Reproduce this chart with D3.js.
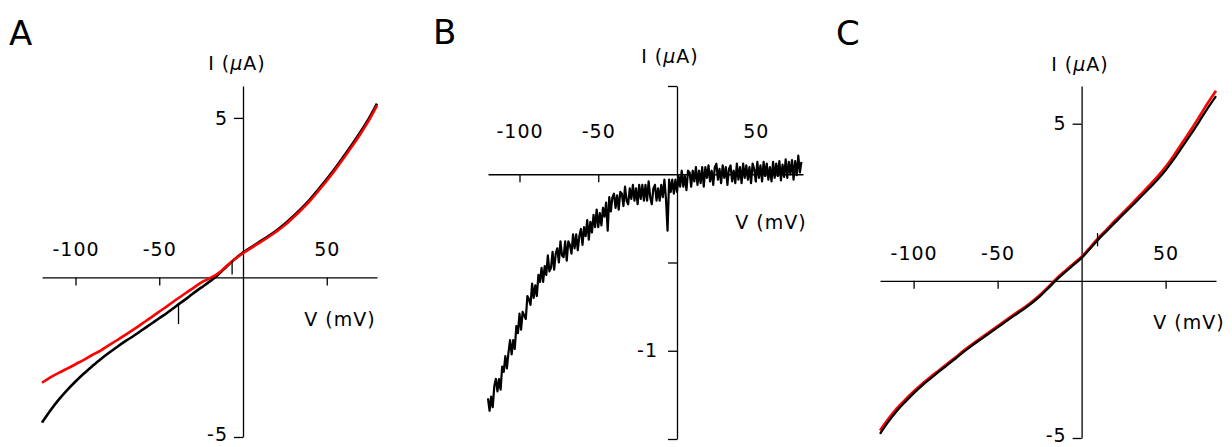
<!DOCTYPE html>
<html>
<head>
<meta charset="utf-8">
<script src="https://cdn.jsdelivr.net/npm/d3@7"></script>
<style>
  body { margin: 0; background: #fff; }
  text { font-family: "DejaVu Sans", sans-serif; fill: #000; }
</style>
</head>
<body>
<svg id="chart" width="1232" height="447"></svg>
<script>
// voltage steps (mV) for traces A and C
const vGrid = [-120,-115,-110,-105,-100,-95,-90,-85,-80,-75,-70,-65,-60,-55,-50,-45,-40,-35,-30,-25,-20,-15,-10,-5,0,5,10,15,20,25,30,35,40,45,50,55,60,65,70,75,80];

// panel A currents (uA)
const aBlack = [-4.55,-4.17,-3.83,-3.53,-3.26,-3.01,-2.78,-2.56,-2.36,-2.17,-1.99,-1.82,-1.64,-1.46,-1.28,-1.10,-0.90,-0.71,-0.51,-0.32,-0.13,0.08,0.33,0.57,0.78,0.95,1.12,1.29,1.47,1.68,1.92,2.17,2.45,2.76,3.08,3.42,3.79,4.16,4.55,4.97,5.45];
const aRed = [-3.30,-3.13,-2.99,-2.86,-2.72,-2.58,-2.43,-2.29,-2.12,-1.96,-1.79,-1.62,-1.44,-1.26,-1.07,-0.89,-0.70,-0.52,-0.34,-0.16,-0.03,0.12,0.35,0.57,0.76,0.93,1.09,1.26,1.44,1.64,1.88,2.13,2.40,2.71,3.03,3.37,3.73,4.10,4.49,4.91,5.39];
// glitches on the black trace: [V, from I, to I]
const aSpikes = [[-38.5, -0.84, -1.46], [-6.5, 0.52, 0.09]];

// panel C currents (uA)
const cBlack = [-4.87,-4.48,-4.14,-3.85,-3.58,-3.33,-3.11,-2.89,-2.68,-2.47,-2.25,-2.05,-1.86,-1.67,-1.48,-1.29,-1.10,-0.92,-0.72,-0.50,-0.24,0.03,0.27,0.50,0.73,1.02,1.32,1.59,1.86,2.13,2.39,2.66,2.93,3.21,3.52,3.88,4.27,4.66,5.07,5.49,5.88];
const cRed = [-4.76,-4.39,-4.06,-3.78,-3.52,-3.28,-3.06,-2.85,-2.64,-2.43,-2.21,-2.01,-1.82,-1.63,-1.44,-1.25,-1.06,-0.88,-0.68,-0.46,-0.20,0.07,0.31,0.54,0.77,1.06,1.37,1.64,1.92,2.19,2.46,2.74,3.02,3.31,3.63,4.00,4.40,4.80,5.22,5.65,6.05];
const cSpikes = [[9.5, 1.52, 1.10]];

// panel B difference trace, 1 mV steps from -120 mV
const bStartV = -120;
const bTrace = [
  -1.27,-1.34,-1.26,-1.32,-1.20,-1.16,-1.23,-1.16,-1.22,-1.09,-1.12,-1.03,-1.10,-1.01,-0.94,-1.02,-0.94,-0.99,-0.86,-0.90,
  -0.79,-0.88,-0.78,-0.80,-0.82,-0.69,-0.71,-0.74,-0.62,-0.70,-0.63,-0.69,-0.57,-0.61,-0.53,-0.61,-0.52,-0.57,-0.46,-0.55,
  -0.53,-0.44,-0.54,-0.45,-0.42,-0.50,-0.38,-0.46,-0.47,-0.38,-0.49,-0.38,-0.40,-0.45,-0.34,-0.42,-0.34,-0.43,-0.35,-0.31,
  -0.40,-0.30,-0.35,-0.26,-0.37,-0.27,-0.33,-0.23,-0.30,-0.20,-0.30,-0.22,-0.29,-0.19,-0.24,-0.16,-0.32,-0.13,-0.21,-0.13,
  -0.11,-0.19,-0.12,-0.20,-0.10,-0.11,-0.18,-0.07,-0.15,-0.17,-0.08,-0.14,-0.06,-0.15,-0.08,-0.17,-0.06,-0.14,-0.06,-0.15,
  -0.06,-0.15,-0.04,-0.13,-0.17,-0.08,-0.06,-0.15,-0.08,-0.15,-0.06,-0.13,-0.03,-0.14,-0.32,-0.03,-0.10,-0.03,-0.11,-0.03,
  -0.10,-0.01,-0.07,0.02,-0.07,-0.01,-0.09,0.02,0.01,-0.07,0.02,-0.04,0.04,-0.06,0.02,-0.05,0.04,-0.07,0.04,-0.02,
  0.05,-0.04,0.02,-0.06,0.04,0.06,-0.03,0.03,-0.05,0.05,-0.02,0.04,-0.06,0.03,0.05,-0.04,0.02,-0.05,0.06,-0.03,
  0.04,-0.05,0.06,-0.02,0.05,-0.03,0.04,-0.05,0.06,0.03,-0.04,0.07,-0.02,0.05,-0.04,0.07,-0.01,0.06,-0.03,0.04,
  -0.04,0.07,-0.02,0.06,-0.01,0.075,-0.035,0.055,-0.015,0.085,-0.02,0.07,0.00,0.08,-0.03,0.075,-0.005,0.105,0.01,0.07
];

const xTickVals = [-100, -50, 50];

const svg = d3.select("#chart");

const panels = [
  { letter: "A", lx: 9, ly: 45,
    xRange: [42, 377], yDomain: [-5, 6], yRange: [437, 86],
    yTicks: [-5, 5], yFmt: d => String(d), yPad: 6,
    xLabY: 21, iLab: [237, 70], vLab: [340, 326],
    traces: [
      { pts: vGrid.map((v, i) => [v, aBlack[i]]), color: "#000", w: 2.6 },
      { pts: vGrid.map((v, i) => [v, aRed[i]]), color: "#f00", w: 2.6 }
    ],
    spikes: aSpikes },
  { letter: "B", lx: 433, ly: 44,
    xRange: [488, 803], yDomain: [-1.5, 0.5], yRange: [439, 86],
    yTicks: [-1.5, -1, -0.5, 0.5], yFmt: d => d === -1 ? "-1" : "", yPad: 10,
    xLabY: 36, iLab: [670, 63], vLab: [771, 229],
    traces: [
      { pts: bTrace.map((c, i) => [bStartV + i, c]), color: "#000", w: 2.2, linear: true }
    ],
    spikes: [] },
  { letter: "C", lx: 836, ly: 45,
    xRange: [880, 1216], yDomain: [-5, 6.2], yRange: [438, 86],
    yTicks: [-5, 5], yFmt: d => String(d), yPad: 6,
    xLabY: 21, iLab: [1080, 71], vLab: [1189, 329],
    traces: [
      { pts: vGrid.map((v, i) => [v, cRed[i]]), color: "#f00", w: 2.6 },
      { pts: vGrid.map((v, i) => [v, cBlack[i]]), color: "#000", w: 2.3 }
    ],
    spikes: cSpikes }
];

panels.forEach(p => {
  const x = d3.scaleLinear().domain([-120, 80]).range(p.xRange);
  const y = d3.scaleLinear().domain(p.yDomain).range(p.yRange);
  const g = svg.append("g");

  // x axis, labels sit above the line
  const xa = g.append("g")
    .attr("transform", "translate(0," + y(0) + ")")
    .call(d3.axisBottom(x).tickValues(xTickVals).tickSize(8).tickSizeOuter(0).tickFormat(d => String(d)));
  xa.selectAll("text")
    .attr("y", -p.xLabY).attr("dy", 0)
    .attr("font-size", 19).attr("font-family", "DejaVu Sans").style("letter-spacing", "1px");

  const ya = g.append("g")
    .attr("transform", "translate(" + x(0) + ",0)")
    .call(d3.axisLeft(y).tickValues(p.yTicks).tickSize(9).tickSizeOuter(0).tickPadding(p.yPad).tickFormat(p.yFmt));
  ya.selectAll("text").attr("font-size", 19).attr("font-family", "DejaVu Sans").style("letter-spacing", "1px")
    .attr("dy", d => d === -5 ? "0.2em" : "0.32em");

  g.selectAll(".domain, .tick line").attr("stroke", "#000").attr("stroke-width", 1.3);

  // traces
  p.traces.forEach(t => {
    const line = d3.line()
      .x(d => x(d[0])).y(d => y(d[1]))
      .curve(t.linear ? d3.curveLinear : d3.curveMonotoneX);
    g.append("path")
      .attr("d", line(t.pts))
      .attr("fill", "none")
      .attr("stroke", t.color)
      .attr("stroke-width", t.w)
      .attr("stroke-linejoin", "round");
  });

  g.selectAll(".spike")
    .data(p.spikes)
    .enter().append("line")
    .attr("x1", d => x(d[0])).attr("x2", d => x(d[0]))
    .attr("y1", d => y(d[1])).attr("y2", d => y(d[2]))
    .attr("stroke", "#000").attr("stroke-width", 1.3);

  // labels
  g.append("text").attr("x", p.lx).attr("y", p.ly)
    .attr("font-size", 34).text(p.letter);

  const il = g.append("text").attr("x", p.iLab[0]).attr("y", p.iLab[1])
    .attr("text-anchor", "middle").attr("font-size", 19).style("letter-spacing", "1px");
  il.append("tspan").text("I (");
  il.append("tspan").attr("font-style", "italic").text("\u00b5");
  il.append("tspan").text("A)");

  g.append("text").attr("x", p.vLab[0]).attr("y", p.vLab[1])
    .attr("text-anchor", "middle").attr("font-size", 19).style("letter-spacing", "1px")
    .text("V (mV)");
});
</script>
</body>
</html>
